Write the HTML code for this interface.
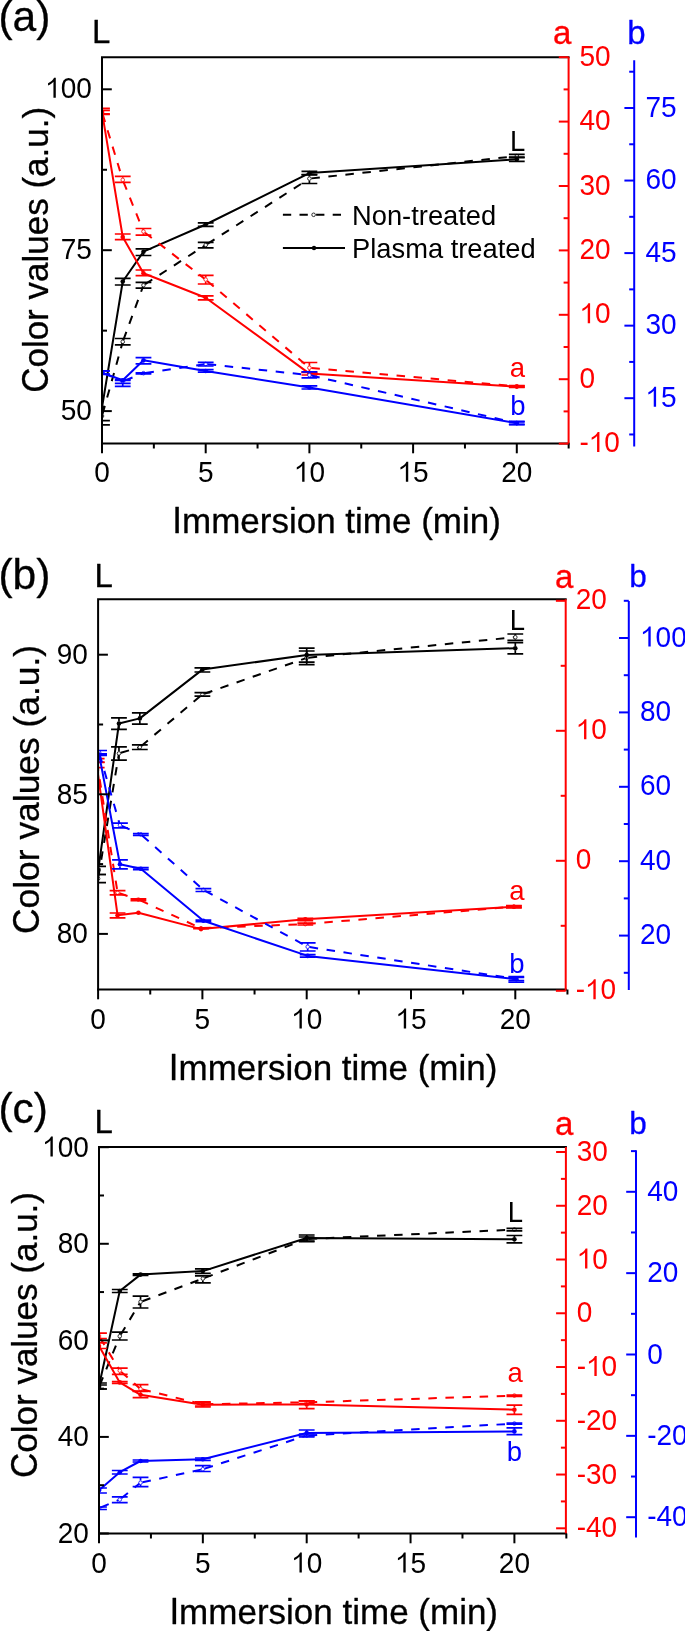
<!DOCTYPE html>
<html><head><meta charset="utf-8"><title>Color values vs immersion time</title>
<style>
html,body{margin:0;padding:0;background:#fff;}
body{width:685px;height:1631px;overflow:hidden;}
svg{display:block;font-family:"Liberation Sans",sans-serif;will-change:transform;}
text{stroke-width:0;}
.ttl{stroke-width:0.3px;stroke-linejoin:round;}
</style></head>
<body>
<svg width="685" height="1631" viewBox="0 0 685 1631">
<rect width="685" height="1631" fill="#fff"/>
<clipPath id="clip0"><rect x="102" y="27.2" width="476.6" height="446.3"/></clipPath>
<g clip-path="url(#clip0)" fill="none">
<path d="M102.54 414.07L122.74 341.8M123.43 339.92L143.48 285.2M145.16 284.11L205.7 245M207.38 243.92L309.4 178.6M311.39 178.38L516.8 156.1" stroke="#000000" stroke-width="2.0" stroke-dasharray="8.5 8.6"/>
<circle cx="102" cy="416" r="1.8" fill="#fff" stroke="#000000" stroke-width="0.8"/>
<path d="M94.1 420.7H109.9M94.1 424.9H109.9M102 418.1V424.9" stroke="#000000" stroke-width="1.7"/>
<circle cx="122.74" cy="341.8" r="1.8" fill="#fff" stroke="#000000" stroke-width="0.8"/>
<path d="M114.84 338.5H130.64M114.84 344.8H130.64M122.74 338.5V339.7M122.74 343.9V344.8" stroke="#000000" stroke-width="1.7"/>
<circle cx="143.48" cy="285.2" r="1.8" fill="#fff" stroke="#000000" stroke-width="0.8"/>
<path d="M135.58 282.3H151.38M135.58 288.1H151.38M143.48 282.3V283.1M143.48 287.3V288.1" stroke="#000000" stroke-width="1.7"/>
<circle cx="205.7" cy="245" r="1.8" fill="#fff" stroke="#000000" stroke-width="0.8"/>
<path d="M197.8 242.3H213.6M197.8 247.9H213.6M205.7 242.3V242.9M205.7 247.1V247.9" stroke="#000000" stroke-width="1.7"/>
<circle cx="309.4" cy="178.6" r="1.8" fill="#fff" stroke="#000000" stroke-width="0.8"/>
<path d="M301.5 174.8H317.3M301.5 183.5H317.3M309.4 174.8V176.5M309.4 180.7V183.5" stroke="#000000" stroke-width="1.7"/>
<circle cx="516.8" cy="156.1" r="1.8" fill="#fff" stroke="#000000" stroke-width="0.8"/>
<path d="M508.9 154.4H524.7M508.9 157.6H524.7" stroke="#000000" stroke-width="1.7"/>
<path d="M102 407.5 L122.74 281.5 L143.48 251.7 L205.7 224.5 L309.4 173.1 L516.8 159.2" stroke="#000000" stroke-width="2.0" stroke-linejoin="round"/>
<circle cx="102" cy="407.5" r="2.3" fill="#000000"/>
<circle cx="122.74" cy="281.5" r="2.3" fill="#000000"/>
<path d="M114.84 278.3H130.64M114.84 285H130.64M122.74 278.3V279.4M122.74 283.6V285" stroke="#000000" stroke-width="1.7"/>
<circle cx="143.48" cy="251.7" r="2.3" fill="#000000"/>
<path d="M135.58 248.8H151.38M135.58 255.5H151.38M143.48 248.8V249.6M143.48 253.8V255.5" stroke="#000000" stroke-width="1.7"/>
<circle cx="205.7" cy="224.5" r="2.3" fill="#000000"/>
<path d="M197.8 222.8H213.6M197.8 226.3H213.6" stroke="#000000" stroke-width="1.7"/>
<circle cx="309.4" cy="173.1" r="2.3" fill="#000000"/>
<path d="M301.5 171.3H317.3M301.5 174.5H317.3" stroke="#000000" stroke-width="1.7"/>
<circle cx="516.8" cy="159.2" r="2.3" fill="#000000"/>
<path d="M508.9 157.2H524.7M508.9 161.4H524.7M516.8 161.3V161.4" stroke="#000000" stroke-width="1.7"/>
<path d="M102.58 113.91L122.74 179.9M123.49 181.76L143.48 231.5M145.06 232.72L205.7 279.6M207.22 280.9L309.4 367.8M311.39 367.98L516.8 386.3" stroke="#ff0000" stroke-width="2.0" stroke-dasharray="8.5 8.6"/>
<circle cx="102" cy="112" r="1.8" fill="#fff" stroke="#ff0000" stroke-width="0.8"/>
<path d="M94.1 110.3H109.9M94.1 113.8H109.9" stroke="#ff0000" stroke-width="1.7"/>
<circle cx="122.74" cy="179.9" r="1.8" fill="#fff" stroke="#ff0000" stroke-width="0.8"/>
<path d="M114.84 176.4H130.64M114.84 182.4H130.64M122.74 176.4V177.8M122.74 182V182.4" stroke="#ff0000" stroke-width="1.7"/>
<circle cx="143.48" cy="231.5" r="1.8" fill="#fff" stroke="#ff0000" stroke-width="0.8"/>
<path d="M135.58 228.5H151.38M135.58 235.2H151.38M143.48 228.5V229.4M143.48 233.6V235.2" stroke="#ff0000" stroke-width="1.7"/>
<circle cx="205.7" cy="279.6" r="1.8" fill="#fff" stroke="#ff0000" stroke-width="0.8"/>
<path d="M197.8 275.3H213.6M197.8 284H213.6M205.7 275.3V277.5M205.7 281.7V284" stroke="#ff0000" stroke-width="1.7"/>
<circle cx="309.4" cy="367.8" r="1.8" fill="#fff" stroke="#ff0000" stroke-width="0.8"/>
<path d="M301.5 362.5H317.3M301.5 372.5H317.3M309.4 362.5V365.7M309.4 369.9V372.5" stroke="#ff0000" stroke-width="1.7"/>
<circle cx="516.8" cy="386.3" r="1.8" fill="#fff" stroke="#ff0000" stroke-width="0.8"/>
<path d="M508.9 385.5H524.7M508.9 387.1H524.7" stroke="#ff0000" stroke-width="1.7"/>
<path d="M102 112 L122.74 237 L143.48 273.3 L205.7 297.8 L309.4 373.6 L516.8 386.6" stroke="#ff0000" stroke-width="2.0" stroke-linejoin="round"/>
<circle cx="102" cy="112" r="2.3" fill="#ff0000"/>
<path d="M94.1 108.3H109.9M94.1 114.5H109.9M102 108.3V109.9M102 114.1V114.5" stroke="#ff0000" stroke-width="1.7"/>
<circle cx="122.74" cy="237" r="2.3" fill="#ff0000"/>
<path d="M114.84 234H130.64M114.84 239.7H130.64M122.74 234V234.9M122.74 239.1V239.7" stroke="#ff0000" stroke-width="1.7"/>
<circle cx="143.48" cy="273.3" r="2.3" fill="#ff0000"/>
<path d="M135.58 270H151.38M135.58 275.6H151.38M143.48 270V271.2M143.48 275.4V275.6" stroke="#ff0000" stroke-width="1.7"/>
<circle cx="205.7" cy="297.8" r="2.3" fill="#ff0000"/>
<path d="M197.8 295.8H213.6M197.8 299.9H213.6" stroke="#ff0000" stroke-width="1.7"/>
<circle cx="309.4" cy="373.6" r="2.3" fill="#ff0000"/>
<path d="M301.5 372.2H317.3M301.5 375H317.3" stroke="#ff0000" stroke-width="1.7"/>
<circle cx="516.8" cy="386.6" r="2.3" fill="#ff0000"/>
<path d="M508.9 385.8H524.7M508.9 387.4H524.7" stroke="#ff0000" stroke-width="1.7"/>
<path d="M103.84 373.37L122.74 381.3M124.6 380.57L143.48 373.2M145.46 372.91L205.7 364M207.69 364.21L309.4 375.1M311.35 375.55L516.8 423.1" stroke="#0000ff" stroke-width="2.0" stroke-dasharray="8.5 8.6"/>
<circle cx="102" cy="372.6" r="1.8" fill="#fff" stroke="#0000ff" stroke-width="0.8"/>
<path d="M94.1 371H109.9M94.1 374H109.9" stroke="#0000ff" stroke-width="1.7"/>
<circle cx="122.74" cy="381.3" r="1.8" fill="#fff" stroke="#0000ff" stroke-width="0.8"/>
<path d="M114.84 380.5H130.64M114.84 386.4H130.64M122.74 383.4V386.4" stroke="#0000ff" stroke-width="1.7"/>
<circle cx="143.48" cy="373.2" r="1.8" fill="#fff" stroke="#0000ff" stroke-width="0.8"/>
<path d="M135.58 372.8H151.38M135.58 374H151.38" stroke="#0000ff" stroke-width="1.7"/>
<circle cx="205.7" cy="364" r="1.8" fill="#fff" stroke="#0000ff" stroke-width="0.8"/>
<path d="M197.8 362.3H213.6M197.8 366H213.6" stroke="#0000ff" stroke-width="1.7"/>
<circle cx="309.4" cy="375.1" r="1.8" fill="#fff" stroke="#0000ff" stroke-width="0.8"/>
<path d="M301.5 371.9H317.3M301.5 377.9H317.3M309.4 371.9V373M309.4 377.2V377.9" stroke="#0000ff" stroke-width="1.7"/>
<circle cx="516.8" cy="423.1" r="1.8" fill="#fff" stroke="#0000ff" stroke-width="0.8"/>
<path d="M508.9 421.8H524.7M508.9 424.6H524.7" stroke="#0000ff" stroke-width="1.7"/>
<path d="M102 372.6 L122.74 380.3 L143.48 360.3 L205.7 371 L309.4 387.5 L516.8 423.1" stroke="#0000ff" stroke-width="2.0" stroke-linejoin="round"/>
<circle cx="102" cy="372.6" r="2.3" fill="#0000ff"/>
<path d="M94.1 370.8H109.9M94.1 374.4H109.9" stroke="#0000ff" stroke-width="1.7"/>
<circle cx="122.74" cy="380.3" r="2.3" fill="#0000ff"/>
<path d="M114.84 379.5H130.64M114.84 383.3H130.64M122.74 382.4V383.3" stroke="#0000ff" stroke-width="1.7"/>
<circle cx="143.48" cy="360.3" r="2.3" fill="#0000ff"/>
<path d="M135.58 357.6H151.38M135.58 363.8H151.38M143.48 357.6V358.2M143.48 362.4V363.8" stroke="#0000ff" stroke-width="1.7"/>
<circle cx="205.7" cy="371" r="2.3" fill="#0000ff"/>
<path d="M197.8 369.7H213.6M197.8 372.2H213.6" stroke="#0000ff" stroke-width="1.7"/>
<circle cx="309.4" cy="387.5" r="2.3" fill="#0000ff"/>
<path d="M301.5 385.9H317.3M301.5 389H317.3" stroke="#0000ff" stroke-width="1.7"/>
<circle cx="516.8" cy="423.1" r="2.3" fill="#0000ff"/>
<path d="M508.9 421.3H524.7M508.9 424.4H524.7" stroke="#0000ff" stroke-width="1.7"/>
</g>
<path d="M102 443.5V57.2H568.6" fill="none" stroke="#000000" stroke-width="2.0" stroke-linecap="square"/>
<line x1="102" y1="443.5" x2="568.6" y2="443.5" stroke="#000000" stroke-width="2.0" stroke-linecap="square"/>
<line x1="568.6" y1="57.2" x2="568.6" y2="443.6" stroke="#ff0000" stroke-width="2.0" />
<line x1="634.2" y1="60.3" x2="634.2" y2="446.4" stroke="#0000ff" stroke-width="2.0" />
<line x1="102" y1="443.5" x2="102" y2="453.3" stroke="#000000" stroke-width="2.0" />
<text transform="translate(94.22 481.8) scale(1 1.05)" font-size="28" fill="#000000" stroke="#000000" text-anchor="start" >0</text>
<line x1="153.85" y1="443.5" x2="153.85" y2="448.5" stroke="#000000" stroke-width="2.0" />
<line x1="205.7" y1="443.5" x2="205.7" y2="453.3" stroke="#000000" stroke-width="2.0" />
<text transform="translate(197.92 481.8) scale(1 1.05)" font-size="28" fill="#000000" stroke="#000000" text-anchor="start" >5</text>
<line x1="257.55" y1="443.5" x2="257.55" y2="448.5" stroke="#000000" stroke-width="2.0" />
<line x1="309.4" y1="443.5" x2="309.4" y2="453.3" stroke="#000000" stroke-width="2.0" />
<path d="M298 0L382 0L382 -680L320 -680C290 -615 215 -540 105 -495L105 -417C190 -450 258 -495 298 -544Z" fill="#000000" stroke="#000000" stroke-width="0" transform="translate(293.83 481.8) scale(0.0280 0.0294)"/>
<text transform="translate(309.4 481.8) scale(1 1.05)" font-size="28" fill="#000000" stroke="#000000" text-anchor="start" >0</text>
<line x1="361.25" y1="443.5" x2="361.25" y2="448.5" stroke="#000000" stroke-width="2.0" />
<line x1="413.1" y1="443.5" x2="413.1" y2="453.3" stroke="#000000" stroke-width="2.0" />
<path d="M298 0L382 0L382 -680L320 -680C290 -615 215 -540 105 -495L105 -417C190 -450 258 -495 298 -544Z" fill="#000000" stroke="#000000" stroke-width="0" transform="translate(397.53 481.8) scale(0.0280 0.0294)"/>
<text transform="translate(413.1 481.8) scale(1 1.05)" font-size="28" fill="#000000" stroke="#000000" text-anchor="start" >5</text>
<line x1="464.95" y1="443.5" x2="464.95" y2="448.5" stroke="#000000" stroke-width="2.0" />
<line x1="516.8" y1="443.5" x2="516.8" y2="453.3" stroke="#000000" stroke-width="2.0" />
<text transform="translate(501.23 481.8) scale(1 1.05)" font-size="28" fill="#000000" stroke="#000000" text-anchor="start" >20</text>
<line x1="568.65" y1="443.5" x2="568.65" y2="448.5" stroke="#000000" stroke-width="2.0" />
<line x1="102" y1="411.1" x2="111.8" y2="411.1" stroke="#000000" stroke-width="2.0" />
<text transform="translate(60.66 419.6) scale(1 1.05)" font-size="28" fill="#000000" stroke="#000000" text-anchor="start" >50</text>
<line x1="102" y1="250.2" x2="111.8" y2="250.2" stroke="#000000" stroke-width="2.0" />
<text transform="translate(60.66 258.7) scale(1 1.05)" font-size="28" fill="#000000" stroke="#000000" text-anchor="start" >75</text>
<line x1="102" y1="89.3" x2="111.8" y2="89.3" stroke="#000000" stroke-width="2.0" />
<path d="M298 0L382 0L382 -680L320 -680C290 -615 215 -540 105 -495L105 -417C190 -450 258 -495 298 -544Z" fill="#000000" stroke="#000000" stroke-width="0" transform="translate(45.1 97.8) scale(0.0280 0.0294)"/>
<text transform="translate(60.66 97.8) scale(1 1.05)" font-size="28" fill="#000000" stroke="#000000" text-anchor="start" >00</text>
<line x1="102" y1="330.65" x2="107" y2="330.65" stroke="#000000" stroke-width="2.0" />
<line x1="102" y1="169.75" x2="107" y2="169.75" stroke="#000000" stroke-width="2.0" />
<line x1="568.6" y1="443.6" x2="558.8" y2="443.6" stroke="#ff0000" stroke-width="2.0" />
<text transform="translate(579.4 452.1) scale(1 1.05)" font-size="28" fill="#ff0000" stroke="#ff0000" text-anchor="start" >-</text>
<path d="M298 0L382 0L382 -680L320 -680C290 -615 215 -540 105 -495L105 -417C190 -450 258 -495 298 -544Z" fill="#ff0000" stroke="#ff0000" stroke-width="0" transform="translate(588.72 452.1) scale(0.0280 0.0294)"/>
<text transform="translate(604.29 452.1) scale(1 1.05)" font-size="28" fill="#ff0000" stroke="#ff0000" text-anchor="start" >0</text>
<line x1="568.6" y1="379.2" x2="558.8" y2="379.2" stroke="#ff0000" stroke-width="2.0" />
<text transform="translate(579.4 387.7) scale(1 1.05)" font-size="28" fill="#ff0000" stroke="#ff0000" text-anchor="start" >0</text>
<line x1="568.6" y1="314.8" x2="558.8" y2="314.8" stroke="#ff0000" stroke-width="2.0" />
<path d="M298 0L382 0L382 -680L320 -680C290 -615 215 -540 105 -495L105 -417C190 -450 258 -495 298 -544Z" fill="#ff0000" stroke="#ff0000" stroke-width="0" transform="translate(579.4 323.3) scale(0.0280 0.0294)"/>
<text transform="translate(594.97 323.3) scale(1 1.05)" font-size="28" fill="#ff0000" stroke="#ff0000" text-anchor="start" >0</text>
<line x1="568.6" y1="250.4" x2="558.8" y2="250.4" stroke="#ff0000" stroke-width="2.0" />
<text transform="translate(579.4 258.9) scale(1 1.05)" font-size="28" fill="#ff0000" stroke="#ff0000" text-anchor="start" >20</text>
<line x1="568.6" y1="186" x2="558.8" y2="186" stroke="#ff0000" stroke-width="2.0" />
<text transform="translate(579.4 194.5) scale(1 1.05)" font-size="28" fill="#ff0000" stroke="#ff0000" text-anchor="start" >30</text>
<line x1="568.6" y1="121.6" x2="558.8" y2="121.6" stroke="#ff0000" stroke-width="2.0" />
<text transform="translate(579.4 130.1) scale(1 1.05)" font-size="28" fill="#ff0000" stroke="#ff0000" text-anchor="start" >40</text>
<line x1="568.6" y1="57.2" x2="558.8" y2="57.2" stroke="#ff0000" stroke-width="2.0" />
<text transform="translate(579.4 65.7) scale(1 1.05)" font-size="28" fill="#ff0000" stroke="#ff0000" text-anchor="start" >50</text>
<line x1="568.6" y1="411.4" x2="563.6" y2="411.4" stroke="#ff0000" stroke-width="2.0" />
<line x1="568.6" y1="347" x2="563.6" y2="347" stroke="#ff0000" stroke-width="2.0" />
<line x1="568.6" y1="282.6" x2="563.6" y2="282.6" stroke="#ff0000" stroke-width="2.0" />
<line x1="568.6" y1="218.2" x2="563.6" y2="218.2" stroke="#ff0000" stroke-width="2.0" />
<line x1="568.6" y1="153.8" x2="563.6" y2="153.8" stroke="#ff0000" stroke-width="2.0" />
<line x1="568.6" y1="89.4" x2="563.6" y2="89.4" stroke="#ff0000" stroke-width="2.0" />
<line x1="634.2" y1="398.2" x2="624.4" y2="398.2" stroke="#0000ff" stroke-width="2.0" />
<path d="M298 0L382 0L382 -680L320 -680C290 -615 215 -540 105 -495L105 -417C190 -450 258 -495 298 -544Z" fill="#0000ff" stroke="#0000ff" stroke-width="0" transform="translate(645.4 406.7) scale(0.0280 0.0294)"/>
<text transform="translate(660.97 406.7) scale(1 1.05)" font-size="28" fill="#0000ff" stroke="#0000ff" text-anchor="start" >5</text>
<line x1="634.2" y1="325.65" x2="624.4" y2="325.65" stroke="#0000ff" stroke-width="2.0" />
<text transform="translate(645.4 334.15) scale(1 1.05)" font-size="28" fill="#0000ff" stroke="#0000ff" text-anchor="start" >30</text>
<line x1="634.2" y1="253.1" x2="624.4" y2="253.1" stroke="#0000ff" stroke-width="2.0" />
<text transform="translate(645.4 261.6) scale(1 1.05)" font-size="28" fill="#0000ff" stroke="#0000ff" text-anchor="start" >45</text>
<line x1="634.2" y1="180.55" x2="624.4" y2="180.55" stroke="#0000ff" stroke-width="2.0" />
<text transform="translate(645.4 189.05) scale(1 1.05)" font-size="28" fill="#0000ff" stroke="#0000ff" text-anchor="start" >60</text>
<line x1="634.2" y1="108" x2="624.4" y2="108" stroke="#0000ff" stroke-width="2.0" />
<text transform="translate(645.4 116.5) scale(1 1.05)" font-size="28" fill="#0000ff" stroke="#0000ff" text-anchor="start" >75</text>
<line x1="634.2" y1="434.47" x2="629.2" y2="434.47" stroke="#0000ff" stroke-width="2.0" />
<line x1="634.2" y1="361.93" x2="629.2" y2="361.93" stroke="#0000ff" stroke-width="2.0" />
<line x1="634.2" y1="289.38" x2="629.2" y2="289.38" stroke="#0000ff" stroke-width="2.0" />
<line x1="634.2" y1="216.82" x2="629.2" y2="216.82" stroke="#0000ff" stroke-width="2.0" />
<line x1="634.2" y1="144.27" x2="629.2" y2="144.27" stroke="#0000ff" stroke-width="2.0" />
<line x1="634.2" y1="71.72" x2="629.2" y2="71.72" stroke="#0000ff" stroke-width="2.0" />
<text x="91.89" y="42.9" font-size="33" fill="#000000" stroke="#000000" text-anchor="start" class="ttl">L</text>
<text x="553.1" y="43.8" font-size="33" fill="#ff0000" stroke="#ff0000" text-anchor="start" class="ttl">a</text>
<text x="627.27" y="44.1" font-size="33" fill="#0000ff" stroke="#0000ff" text-anchor="start" class="ttl">b</text>
<text transform="translate(510.04 150.9) scale(1 1.04)" font-size="27.5" fill="#000000" stroke="#000000" text-anchor="start" >L</text>
<text x="509.63" y="377.2" font-size="27.5" fill="#ff0000" stroke="#ff0000" text-anchor="start" >a</text>
<text x="510.23" y="414.6" font-size="27.5" fill="#0000ff" stroke="#0000ff" text-anchor="start" >b</text>
<text x="-1.64" y="31" font-size="42.5" fill="#000000" stroke="#000000" text-anchor="start" class="ttl">(a)</text>
<g transform="translate(48 249.9) rotate(-90)"><text class="ttl" transform="translate(-142.97 0) scale(1 1.055)" font-size="35" fill="#000000" stroke="#000000">C</text><text class="ttl" x="-117.7" y="0" font-size="35" fill="#000000" stroke="#000000">olor values (a.u.)</text></g>
<text class="ttl" transform="translate(172.28 533.1) scale(1 1.055)" font-size="35" fill="#000000" stroke="#000000">I</text>
<text x="182.01" y="533.1" font-size="35" fill="#000000" stroke="#000000" text-anchor="start" class="ttl">mmersion time (min)</text>
<path d="M282.9 214.8H345" stroke="#000000" stroke-width="2.0" stroke-dasharray="8.3 8.3" fill="none"/>
<circle cx="313.6" cy="214.8" r="1.8" fill="#fff" stroke="#000000" stroke-width="0.8"/>
<path d="M282.9 248H345" stroke="#000000" stroke-width="2.0" fill="none"/>
<circle cx="314" cy="248" r="2.2" fill="#000000"/>
<text x="352.06" y="224.7" font-size="27.3" fill="#000000" stroke="#000000" text-anchor="start" >Non-treated</text>
<text x="352.06" y="258.1" font-size="27.3" fill="#000000" stroke="#000000" text-anchor="start" >Plasma treated</text>
<clipPath id="clip1"><rect x="98.1" y="569.2" width="477.6" height="450.3"/></clipPath>
<g clip-path="url(#clip1)" fill="none">
<path d="M98.43 876.63L118.96 753.4M120.88 752.83L139.82 747.2M141.35 745.91L202.4 694.4M204.29 693.74L306.7 657.9M308.69 657.7L515.3 637.2" stroke="#000000" stroke-width="2.0" stroke-dasharray="8.5 8.6"/>
<circle cx="98.1" cy="878.6" r="1.8" fill="#fff" stroke="#000000" stroke-width="0.8"/>
<path d="M90.2 874.5H106M90.2 882.7H106M98.1 874.5V876.5M98.1 880.7V882.7" stroke="#000000" stroke-width="1.7"/>
<circle cx="118.96" cy="753.4" r="1.8" fill="#fff" stroke="#000000" stroke-width="0.8"/>
<path d="M111.06 746.9H126.86M111.06 760.1H126.86M118.96 746.9V751.3M118.96 755.5V760.1" stroke="#000000" stroke-width="1.7"/>
<circle cx="139.82" cy="747.2" r="1.8" fill="#fff" stroke="#000000" stroke-width="0.8"/>
<path d="M131.92 744.9H147.72M131.92 749.5H147.72M139.82 744.9V745.1M139.82 749.3V749.5" stroke="#000000" stroke-width="1.7"/>
<circle cx="202.4" cy="694.4" r="1.8" fill="#fff" stroke="#000000" stroke-width="0.8"/>
<path d="M194.5 692.6H210.3M194.5 696.1H210.3" stroke="#000000" stroke-width="1.7"/>
<circle cx="306.7" cy="657.9" r="1.8" fill="#fff" stroke="#000000" stroke-width="0.8"/>
<path d="M298.8 651H314.6M298.8 664.7H314.6M306.7 651V655.8M306.7 660V664.7" stroke="#000000" stroke-width="1.7"/>
<circle cx="515.3" cy="637.2" r="1.8" fill="#fff" stroke="#000000" stroke-width="0.8"/>
<path d="M507.4 634H523.2M507.4 640.3H523.2M515.3 634V635.1M515.3 639.3V640.3" stroke="#000000" stroke-width="1.7"/>
<path d="M98.1 870.5 L118.96 723.5 L139.82 718.4 L202.4 669.6 L306.7 655 L515.3 648.2" stroke="#000000" stroke-width="2.0" stroke-linejoin="round"/>
<circle cx="98.1" cy="870.5" r="2.3" fill="#000000"/>
<path d="M90.2 866.4H106M90.2 874.5H106M98.1 866.4V868.4M98.1 872.6V874.5" stroke="#000000" stroke-width="1.7"/>
<circle cx="118.96" cy="723.5" r="2.3" fill="#000000"/>
<path d="M111.06 717.8H126.86M111.06 729.4H126.86M118.96 717.8V721.4M118.96 725.6V729.4" stroke="#000000" stroke-width="1.7"/>
<circle cx="139.82" cy="718.4" r="2.3" fill="#000000"/>
<path d="M131.92 712.8H147.72M131.92 724.2H147.72M139.82 712.8V716.3M139.82 720.5V724.2" stroke="#000000" stroke-width="1.7"/>
<circle cx="202.4" cy="669.6" r="2.3" fill="#000000"/>
<path d="M194.5 667.8H210.3M194.5 672H210.3M202.4 671.7V672" stroke="#000000" stroke-width="1.7"/>
<circle cx="306.7" cy="655" r="2.3" fill="#000000"/>
<path d="M298.8 648.1H314.6M298.8 662.1H314.6M306.7 648.1V652.9M306.7 657.1V662.1" stroke="#000000" stroke-width="1.7"/>
<circle cx="515.3" cy="648.2" r="2.3" fill="#000000"/>
<path d="M507.4 642.7H523.2M507.4 653.9H523.2M515.3 642.7V646.1M515.3 650.3V653.9" stroke="#000000" stroke-width="1.7"/>
<path d="M97.01 762.38L117.56 892.6M119.46 893.24L138.42 899.6M140.24 900.43L201 928.2M203 928.12L305.3 924.1M307.29 923.93L513.9 906.7" stroke="#ff0000" stroke-width="2.0" stroke-dasharray="8.5 8.6"/>
<circle cx="96.7" cy="760.4" r="1.8" fill="#fff" stroke="#ff0000" stroke-width="0.8"/>
<path d="M88.8 758.7H104.6M88.8 762.1H104.6" stroke="#ff0000" stroke-width="1.7"/>
<circle cx="117.56" cy="892.6" r="1.8" fill="#fff" stroke="#ff0000" stroke-width="0.8"/>
<path d="M109.66 890.6H125.46M109.66 894.8H125.46M117.56 894.7V894.8" stroke="#ff0000" stroke-width="1.7"/>
<circle cx="138.42" cy="899.6" r="1.8" fill="#fff" stroke="#ff0000" stroke-width="0.8"/>
<path d="M130.52 898.8H146.32M130.52 900.6H146.32" stroke="#ff0000" stroke-width="1.7"/>
<circle cx="201" cy="928.2" r="1.8" fill="#fff" stroke="#ff0000" stroke-width="0.8"/>
<path d="M193.1 927.8H208.9M193.1 928.6H208.9" stroke="#ff0000" stroke-width="1.7"/>
<circle cx="305.3" cy="924.1" r="1.8" fill="#fff" stroke="#ff0000" stroke-width="0.8"/>
<path d="M297.4 923.1H313.2M297.4 925H313.2" stroke="#ff0000" stroke-width="1.7"/>
<circle cx="513.9" cy="906.7" r="1.8" fill="#fff" stroke="#ff0000" stroke-width="0.8"/>
<path d="M506 906H521.8M506 907.4H521.8" stroke="#ff0000" stroke-width="1.7"/>
<path d="M96.7 765 L117.56 915.2 L138.42 912.7 L201 929.1 L305.3 919.2 L513.9 906.7" stroke="#ff0000" stroke-width="2.0" stroke-linejoin="round"/>
<circle cx="96.7" cy="765" r="2.3" fill="#ff0000"/>
<path d="M88.8 762.5H104.6M88.8 767.7H104.6M96.7 762.5V762.9M96.7 767.1V767.7" stroke="#ff0000" stroke-width="1.7"/>
<circle cx="117.56" cy="915.2" r="2.3" fill="#ff0000"/>
<path d="M109.66 913H125.46M109.66 917.8H125.46M117.56 913V913.1M117.56 917.3V917.8" stroke="#ff0000" stroke-width="1.7"/>
<circle cx="138.42" cy="912.7" r="2.3" fill="#ff0000"/>
<circle cx="201" cy="929.1" r="2.3" fill="#ff0000"/>
<circle cx="305.3" cy="919.2" r="2.3" fill="#ff0000"/>
<path d="M297.4 918.4H313.2M297.4 920.6H313.2" stroke="#ff0000" stroke-width="1.7"/>
<circle cx="513.9" cy="906.7" r="2.3" fill="#ff0000"/>
<path d="M506 905.6H521.8M506 907.8H521.8" stroke="#ff0000" stroke-width="1.7"/>
<path d="M99.65 754.42L119.96 825.2M121.79 826.01L140.82 834.4M142.32 835.73L203.4 889.9M205.16 890.86L307.7 946.8M309.68 947.11L516.3 979" stroke="#0000ff" stroke-width="2.0" stroke-dasharray="8.5 8.6"/>
<circle cx="99.1" cy="752.5" r="1.8" fill="#fff" stroke="#0000ff" stroke-width="0.8"/>
<path d="M91.2 750.5H107M91.2 754.6H107" stroke="#0000ff" stroke-width="1.7"/>
<circle cx="119.96" cy="825.2" r="1.8" fill="#fff" stroke="#0000ff" stroke-width="0.8"/>
<path d="M112.06 823.2H127.86M112.06 827.8H127.86M119.96 827.3V827.8" stroke="#0000ff" stroke-width="1.7"/>
<circle cx="140.82" cy="834.4" r="1.8" fill="#fff" stroke="#0000ff" stroke-width="0.8"/>
<path d="M132.92 833.5H148.72M132.92 835.3H148.72" stroke="#0000ff" stroke-width="1.7"/>
<circle cx="203.4" cy="889.9" r="1.8" fill="#fff" stroke="#0000ff" stroke-width="0.8"/>
<path d="M195.5 888.7H211.3M195.5 891.5H211.3" stroke="#0000ff" stroke-width="1.7"/>
<circle cx="307.7" cy="946.8" r="1.8" fill="#fff" stroke="#0000ff" stroke-width="0.8"/>
<path d="M299.8 942.8H315.6M299.8 951H315.6M307.7 942.8V944.7M307.7 948.9V951" stroke="#0000ff" stroke-width="1.7"/>
<circle cx="516.3" cy="979" r="1.8" fill="#fff" stroke="#0000ff" stroke-width="0.8"/>
<path d="M508.4 977.5H524.2M508.4 980.5H524.2" stroke="#0000ff" stroke-width="1.7"/>
<path d="M99.1 754.5 L119.96 864.3 L140.82 868.7 L203.4 920.8 L307.7 955.9 L516.3 979.3" stroke="#0000ff" stroke-width="2.0" stroke-linejoin="round"/>
<circle cx="99.1" cy="754.5" r="2.3" fill="#0000ff"/>
<path d="M91.2 753.9H107M91.2 755.3H107" stroke="#0000ff" stroke-width="1.7"/>
<circle cx="119.96" cy="864.3" r="2.3" fill="#0000ff"/>
<path d="M112.06 859.9H127.86M112.06 868.9H127.86M119.96 859.9V862.2M119.96 866.4V868.9" stroke="#0000ff" stroke-width="1.7"/>
<circle cx="140.82" cy="868.7" r="2.3" fill="#0000ff"/>
<path d="M132.92 867.7H148.72M132.92 869.7H148.72" stroke="#0000ff" stroke-width="1.7"/>
<circle cx="203.4" cy="920.8" r="2.3" fill="#0000ff"/>
<path d="M195.5 920H211.3M195.5 921.6H211.3" stroke="#0000ff" stroke-width="1.7"/>
<circle cx="307.7" cy="955.9" r="2.3" fill="#0000ff"/>
<path d="M299.8 954.7H315.6M299.8 957.1H315.6" stroke="#0000ff" stroke-width="1.7"/>
<circle cx="516.3" cy="979.3" r="2.3" fill="#0000ff"/>
<path d="M508.4 976.7H524.2M508.4 982.2H524.2M516.3 976.7V977.2M516.3 981.4V982.2" stroke="#0000ff" stroke-width="1.7"/>
</g>
<path d="M98.1 989.5V599.2H565.7" fill="none" stroke="#000000" stroke-width="2.0" stroke-linecap="square"/>
<line x1="98.1" y1="989.5" x2="565.7" y2="989.5" stroke="#000000" stroke-width="2.0" stroke-linecap="square"/>
<line x1="565.7" y1="599.2" x2="565.7" y2="990.8" stroke="#ff0000" stroke-width="2.0" />
<line x1="628.8" y1="600.9" x2="628.8" y2="990" stroke="#0000ff" stroke-width="2.0" />
<line x1="98.1" y1="989.5" x2="98.1" y2="999.3" stroke="#000000" stroke-width="2.0" />
<text transform="translate(90.32 1028.5) scale(1 1.05)" font-size="28" fill="#000000" stroke="#000000" text-anchor="start" >0</text>
<line x1="150.25" y1="989.5" x2="150.25" y2="994.5" stroke="#000000" stroke-width="2.0" />
<line x1="202.4" y1="989.5" x2="202.4" y2="999.3" stroke="#000000" stroke-width="2.0" />
<text transform="translate(194.62 1028.5) scale(1 1.05)" font-size="28" fill="#000000" stroke="#000000" text-anchor="start" >5</text>
<line x1="254.55" y1="989.5" x2="254.55" y2="994.5" stroke="#000000" stroke-width="2.0" />
<line x1="306.7" y1="989.5" x2="306.7" y2="999.3" stroke="#000000" stroke-width="2.0" />
<path d="M298 0L382 0L382 -680L320 -680C290 -615 215 -540 105 -495L105 -417C190 -450 258 -495 298 -544Z" fill="#000000" stroke="#000000" stroke-width="0" transform="translate(291.13 1028.5) scale(0.0280 0.0294)"/>
<text transform="translate(306.7 1028.5) scale(1 1.05)" font-size="28" fill="#000000" stroke="#000000" text-anchor="start" >0</text>
<line x1="358.85" y1="989.5" x2="358.85" y2="994.5" stroke="#000000" stroke-width="2.0" />
<line x1="411" y1="989.5" x2="411" y2="999.3" stroke="#000000" stroke-width="2.0" />
<path d="M298 0L382 0L382 -680L320 -680C290 -615 215 -540 105 -495L105 -417C190 -450 258 -495 298 -544Z" fill="#000000" stroke="#000000" stroke-width="0" transform="translate(395.43 1028.5) scale(0.0280 0.0294)"/>
<text transform="translate(411 1028.5) scale(1 1.05)" font-size="28" fill="#000000" stroke="#000000" text-anchor="start" >5</text>
<line x1="463.15" y1="989.5" x2="463.15" y2="994.5" stroke="#000000" stroke-width="2.0" />
<line x1="515.3" y1="989.5" x2="515.3" y2="999.3" stroke="#000000" stroke-width="2.0" />
<text transform="translate(499.73 1028.5) scale(1 1.05)" font-size="28" fill="#000000" stroke="#000000" text-anchor="start" >20</text>
<line x1="567.45" y1="989.5" x2="567.45" y2="994.5" stroke="#000000" stroke-width="2.0" />
<line x1="98.1" y1="933.9" x2="107.9" y2="933.9" stroke="#000000" stroke-width="2.0" />
<text transform="translate(56.76 943.4) scale(1 1.05)" font-size="28" fill="#000000" stroke="#000000" text-anchor="start" >80</text>
<line x1="98.1" y1="794.3" x2="107.9" y2="794.3" stroke="#000000" stroke-width="2.0" />
<text transform="translate(56.76 803.8) scale(1 1.05)" font-size="28" fill="#000000" stroke="#000000" text-anchor="start" >85</text>
<line x1="98.1" y1="654.7" x2="107.9" y2="654.7" stroke="#000000" stroke-width="2.0" />
<text transform="translate(56.76 664.2) scale(1 1.05)" font-size="28" fill="#000000" stroke="#000000" text-anchor="start" >90</text>
<line x1="98.1" y1="864.1" x2="103.1" y2="864.1" stroke="#000000" stroke-width="2.0" />
<line x1="98.1" y1="724.5" x2="103.1" y2="724.5" stroke="#000000" stroke-width="2.0" />
<line x1="565.7" y1="990.8" x2="555.9" y2="990.8" stroke="#ff0000" stroke-width="2.0" />
<text transform="translate(575.7 999.3) scale(1 1.05)" font-size="28" fill="#ff0000" stroke="#ff0000" text-anchor="start" >-</text>
<path d="M298 0L382 0L382 -680L320 -680C290 -615 215 -540 105 -495L105 -417C190 -450 258 -495 298 -544Z" fill="#ff0000" stroke="#ff0000" stroke-width="0" transform="translate(585.02 999.3) scale(0.0280 0.0294)"/>
<text transform="translate(600.59 999.3) scale(1 1.05)" font-size="28" fill="#ff0000" stroke="#ff0000" text-anchor="start" >0</text>
<line x1="565.7" y1="860.8" x2="555.9" y2="860.8" stroke="#ff0000" stroke-width="2.0" />
<text transform="translate(575.7 869.3) scale(1 1.05)" font-size="28" fill="#ff0000" stroke="#ff0000" text-anchor="start" >0</text>
<line x1="565.7" y1="730.8" x2="555.9" y2="730.8" stroke="#ff0000" stroke-width="2.0" />
<path d="M298 0L382 0L382 -680L320 -680C290 -615 215 -540 105 -495L105 -417C190 -450 258 -495 298 -544Z" fill="#ff0000" stroke="#ff0000" stroke-width="0" transform="translate(575.7 739.3) scale(0.0280 0.0294)"/>
<text transform="translate(591.27 739.3) scale(1 1.05)" font-size="28" fill="#ff0000" stroke="#ff0000" text-anchor="start" >0</text>
<line x1="565.7" y1="600.8" x2="555.9" y2="600.8" stroke="#ff0000" stroke-width="2.0" />
<text transform="translate(575.7 609.3) scale(1 1.05)" font-size="28" fill="#ff0000" stroke="#ff0000" text-anchor="start" >20</text>
<line x1="565.7" y1="925.8" x2="560.7" y2="925.8" stroke="#ff0000" stroke-width="2.0" />
<line x1="565.7" y1="795.8" x2="560.7" y2="795.8" stroke="#ff0000" stroke-width="2.0" />
<line x1="565.7" y1="665.8" x2="560.7" y2="665.8" stroke="#ff0000" stroke-width="2.0" />
<line x1="628.8" y1="935.6" x2="619" y2="935.6" stroke="#0000ff" stroke-width="2.0" />
<text transform="translate(640 944.1) scale(1 1.05)" font-size="28" fill="#0000ff" stroke="#0000ff" text-anchor="start" >20</text>
<line x1="628.8" y1="861.2" x2="619" y2="861.2" stroke="#0000ff" stroke-width="2.0" />
<text transform="translate(640 869.7) scale(1 1.05)" font-size="28" fill="#0000ff" stroke="#0000ff" text-anchor="start" >40</text>
<line x1="628.8" y1="786.8" x2="619" y2="786.8" stroke="#0000ff" stroke-width="2.0" />
<text transform="translate(640 795.3) scale(1 1.05)" font-size="28" fill="#0000ff" stroke="#0000ff" text-anchor="start" >60</text>
<line x1="628.8" y1="712.4" x2="619" y2="712.4" stroke="#0000ff" stroke-width="2.0" />
<text transform="translate(640 720.9) scale(1 1.05)" font-size="28" fill="#0000ff" stroke="#0000ff" text-anchor="start" >80</text>
<line x1="628.8" y1="638" x2="619" y2="638" stroke="#0000ff" stroke-width="2.0" />
<path d="M298 0L382 0L382 -680L320 -680C290 -615 215 -540 105 -495L105 -417C190 -450 258 -495 298 -544Z" fill="#0000ff" stroke="#0000ff" stroke-width="0" transform="translate(640 646.5) scale(0.0280 0.0294)"/>
<text transform="translate(655.57 646.5) scale(1 1.05)" font-size="28" fill="#0000ff" stroke="#0000ff" text-anchor="start" >00</text>
<line x1="628.8" y1="972.8" x2="623.8" y2="972.8" stroke="#0000ff" stroke-width="2.0" />
<line x1="628.8" y1="898.4" x2="623.8" y2="898.4" stroke="#0000ff" stroke-width="2.0" />
<line x1="628.8" y1="824" x2="623.8" y2="824" stroke="#0000ff" stroke-width="2.0" />
<line x1="628.8" y1="749.6" x2="623.8" y2="749.6" stroke="#0000ff" stroke-width="2.0" />
<line x1="628.8" y1="675.2" x2="623.8" y2="675.2" stroke="#0000ff" stroke-width="2.0" />
<line x1="628.8" y1="600.8" x2="623.8" y2="600.8" stroke="#0000ff" stroke-width="2.0" />
<text x="94.49" y="587.1" font-size="33" fill="#000000" stroke="#000000" text-anchor="start" class="ttl">L</text>
<text x="554.9" y="588" font-size="33" fill="#ff0000" stroke="#ff0000" text-anchor="start" class="ttl">a</text>
<text x="629.17" y="587.4" font-size="31.5" fill="#0000ff" stroke="#0000ff" text-anchor="start" class="ttl">b</text>
<text transform="translate(509.74 630.2) scale(1 1.04)" font-size="27.5" fill="#000000" stroke="#000000" text-anchor="start" >L</text>
<text x="509.13" y="899.6" font-size="27.5" fill="#ff0000" stroke="#ff0000" text-anchor="start" >a</text>
<text x="509.13" y="972.5" font-size="27.5" fill="#0000ff" stroke="#0000ff" text-anchor="start" >b</text>
<text x="-1.64" y="589.3" font-size="42.5" fill="#000000" stroke="#000000" text-anchor="start" class="ttl">(b)</text>
<g transform="translate(38.5 789.4) rotate(-90)"><text class="ttl" transform="translate(-144.61 0) scale(1 1.055)" font-size="35.4" fill="#000000" stroke="#000000">C</text><text class="ttl" x="-119.04" y="0" font-size="35.4" fill="#000000" stroke="#000000">olor values (a.u.)</text></g>
<text class="ttl" transform="translate(168.78 1079.9) scale(1 1.055)" font-size="35" fill="#000000" stroke="#000000">I</text>
<text x="178.51" y="1079.9" font-size="35" fill="#000000" stroke="#000000" text-anchor="start" class="ttl">mmersion time (min)</text>
<clipPath id="clip2"><rect x="99" y="1117.1" width="476.9" height="446.4"/></clipPath>
<g clip-path="url(#clip2)" fill="none">
<path d="M99.76 1385.15L119.77 1336.2M120.81 1334.49L140.54 1301.9M142.41 1301.2L202.85 1278.6M204.72 1277.89L306.7 1239M308.7 1238.91L514.4 1229.6" stroke="#000000" stroke-width="2.0" stroke-dasharray="8.5 8.6"/>
<circle cx="99" cy="1387" r="1.8" fill="#fff" stroke="#000000" stroke-width="0.8"/>
<path d="M91.1 1385H106.9M91.1 1389H106.9" stroke="#000000" stroke-width="1.7"/>
<circle cx="119.77" cy="1336.2" r="1.8" fill="#fff" stroke="#000000" stroke-width="0.8"/>
<path d="M111.87 1332.1H127.67M111.87 1340H127.67M119.77 1332.1V1334.1M119.77 1338.3V1340" stroke="#000000" stroke-width="1.7"/>
<circle cx="140.54" cy="1301.9" r="1.8" fill="#fff" stroke="#000000" stroke-width="0.8"/>
<path d="M132.64 1296.1H148.44M132.64 1308H148.44M140.54 1296.1V1299.8M140.54 1304V1308" stroke="#000000" stroke-width="1.7"/>
<circle cx="202.85" cy="1278.6" r="1.8" fill="#fff" stroke="#000000" stroke-width="0.8"/>
<path d="M194.95 1275.8H210.75M194.95 1282.8H210.75M202.85 1275.8V1276.5M202.85 1280.7V1282.8" stroke="#000000" stroke-width="1.7"/>
<circle cx="306.7" cy="1239" r="1.8" fill="#fff" stroke="#000000" stroke-width="0.8"/>
<path d="M298.8 1237H314.6M298.8 1241H314.6" stroke="#000000" stroke-width="1.7"/>
<circle cx="514.4" cy="1229.6" r="1.8" fill="#fff" stroke="#000000" stroke-width="0.8"/>
<path d="M506.5 1228.3H522.3M506.5 1230.9H522.3" stroke="#000000" stroke-width="1.7"/>
<path d="M99 1386 L119.77 1291 L140.54 1274.6 L202.85 1271.1 L306.7 1238 L514.4 1239.3" stroke="#000000" stroke-width="2.0" stroke-linejoin="round"/>
<circle cx="99" cy="1386" r="2.3" fill="#000000"/>
<path d="M91.1 1383H106.9M91.1 1389H106.9M99 1383V1383.9M99 1388.1V1389" stroke="#000000" stroke-width="1.7"/>
<circle cx="119.77" cy="1291" r="2.3" fill="#000000"/>
<path d="M111.87 1289.5H127.67M111.87 1292.5H127.67" stroke="#000000" stroke-width="1.7"/>
<circle cx="140.54" cy="1274.6" r="2.3" fill="#000000"/>
<path d="M132.64 1273.8H148.44M132.64 1275.4H148.44" stroke="#000000" stroke-width="1.7"/>
<circle cx="202.85" cy="1271.1" r="2.3" fill="#000000"/>
<path d="M194.95 1268.8H210.75M194.95 1273.4H210.75M202.85 1268.8V1269M202.85 1273.2V1273.4" stroke="#000000" stroke-width="1.7"/>
<circle cx="306.7" cy="1238" r="2.3" fill="#000000"/>
<path d="M298.8 1235H314.6M298.8 1241.6H314.6M306.7 1235V1235.9M306.7 1240.1V1241.6" stroke="#000000" stroke-width="1.7"/>
<circle cx="514.4" cy="1239.3" r="2.3" fill="#000000"/>
<path d="M506.5 1235.5H522.3M506.5 1242.9H522.3M514.4 1235.5V1237.2M514.4 1241.4V1242.9" stroke="#000000" stroke-width="1.7"/>
<path d="M100.03 1337.71L119.77 1370.6M121.27 1371.93L140.54 1389M142.48 1389.48L202.85 1404.3M204.85 1404.26L306.7 1402.3M308.7 1402.24L514.4 1395.6" stroke="#ff0000" stroke-width="2.0" stroke-dasharray="8.5 8.6"/>
<circle cx="99" cy="1336" r="1.8" fill="#fff" stroke="#ff0000" stroke-width="0.8"/>
<path d="M91.1 1333.1H106.9M91.1 1338.5H106.9M99 1333.1V1333.9M99 1338.1V1338.5" stroke="#ff0000" stroke-width="1.7"/>
<circle cx="119.77" cy="1370.6" r="1.8" fill="#fff" stroke="#ff0000" stroke-width="0.8"/>
<path d="M111.87 1368.2H127.67M111.87 1374.3H127.67M119.77 1368.2V1368.5M119.77 1372.7V1374.3" stroke="#ff0000" stroke-width="1.7"/>
<circle cx="140.54" cy="1389" r="1.8" fill="#fff" stroke="#ff0000" stroke-width="0.8"/>
<path d="M132.64 1384.6H148.44M132.64 1391.5H148.44M140.54 1384.6V1386.9M140.54 1391.1V1391.5" stroke="#ff0000" stroke-width="1.7"/>
<circle cx="202.85" cy="1404.3" r="1.8" fill="#fff" stroke="#ff0000" stroke-width="0.8"/>
<path d="M194.95 1401.8H210.75M194.95 1406H210.75M202.85 1401.8V1402.2" stroke="#ff0000" stroke-width="1.7"/>
<circle cx="306.7" cy="1402.3" r="1.8" fill="#fff" stroke="#ff0000" stroke-width="0.8"/>
<path d="M298.8 1400.8H314.6M298.8 1403.5H314.6" stroke="#ff0000" stroke-width="1.7"/>
<circle cx="514.4" cy="1395.6" r="1.8" fill="#fff" stroke="#ff0000" stroke-width="0.8"/>
<path d="M506.5 1395H522.3M506.5 1396.3H522.3" stroke="#ff0000" stroke-width="1.7"/>
<path d="M99 1346 L119.77 1382.4 L140.54 1394.8 L202.85 1404.7 L306.7 1404.5 L514.4 1409.7" stroke="#ff0000" stroke-width="2.0" stroke-linejoin="round"/>
<circle cx="99" cy="1346" r="2.3" fill="#ff0000"/>
<path d="M91.1 1342.8H106.9M91.1 1348.5H106.9M99 1342.8V1343.9M99 1348.1V1348.5" stroke="#ff0000" stroke-width="1.7"/>
<circle cx="119.77" cy="1382.4" r="2.3" fill="#ff0000"/>
<path d="M111.87 1381.5H127.67M111.87 1383.3H127.67" stroke="#ff0000" stroke-width="1.7"/>
<circle cx="140.54" cy="1394.8" r="2.3" fill="#ff0000"/>
<path d="M132.64 1391.2H148.44M132.64 1397.7H148.44M140.54 1391.2V1392.7M140.54 1396.9V1397.7" stroke="#ff0000" stroke-width="1.7"/>
<circle cx="202.85" cy="1404.7" r="2.3" fill="#ff0000"/>
<path d="M194.95 1402.5H210.75M194.95 1407H210.75M202.85 1402.5V1402.6M202.85 1406.8V1407" stroke="#ff0000" stroke-width="1.7"/>
<circle cx="306.7" cy="1404.5" r="2.3" fill="#ff0000"/>
<path d="M298.8 1400.8H314.6M298.8 1408.6H314.6M306.7 1400.8V1402.4M306.7 1406.6V1408.6" stroke="#ff0000" stroke-width="1.7"/>
<circle cx="514.4" cy="1409.7" r="2.3" fill="#ff0000"/>
<path d="M506.5 1405.2H522.3M506.5 1414.3H522.3M514.4 1405.2V1407.6M514.4 1411.8V1414.3" stroke="#ff0000" stroke-width="1.7"/>
<path d="M100.85 1507.43L119.77 1499.6M121.32 1498.34L140.54 1482.7M142.49 1482.28L202.85 1469.2M204.75 1468.58L306.7 1435.5M308.7 1435.39L514.4 1423.6" stroke="#0000ff" stroke-width="2.0" stroke-dasharray="8.5 8.6"/>
<circle cx="99" cy="1508.2" r="1.8" fill="#fff" stroke="#0000ff" stroke-width="0.8"/>
<path d="M91.1 1507H106.9M91.1 1509.5H106.9" stroke="#0000ff" stroke-width="1.7"/>
<circle cx="119.77" cy="1499.6" r="1.8" fill="#fff" stroke="#0000ff" stroke-width="0.8"/>
<path d="M111.87 1496.8H127.67M111.87 1502.6H127.67M119.77 1496.8V1497.5M119.77 1501.7V1502.6" stroke="#0000ff" stroke-width="1.7"/>
<circle cx="140.54" cy="1482.7" r="1.8" fill="#fff" stroke="#0000ff" stroke-width="0.8"/>
<path d="M132.64 1477.4H148.44M132.64 1486.7H148.44M140.54 1477.4V1480.6M140.54 1484.8V1486.7" stroke="#0000ff" stroke-width="1.7"/>
<circle cx="202.85" cy="1469.2" r="1.8" fill="#fff" stroke="#0000ff" stroke-width="0.8"/>
<path d="M194.95 1465.7H210.75M194.95 1471.5H210.75M202.85 1465.7V1467.1M202.85 1471.3V1471.5" stroke="#0000ff" stroke-width="1.7"/>
<circle cx="306.7" cy="1435.5" r="1.8" fill="#fff" stroke="#0000ff" stroke-width="0.8"/>
<path d="M298.8 1434H314.6M298.8 1437H314.6" stroke="#0000ff" stroke-width="1.7"/>
<circle cx="514.4" cy="1423.6" r="1.8" fill="#fff" stroke="#0000ff" stroke-width="0.8"/>
<path d="M506.5 1423.1H522.3M506.5 1424.1H522.3" stroke="#0000ff" stroke-width="1.7"/>
<path d="M99 1490.2 L119.77 1472.2 L140.54 1461 L202.85 1459.2 L306.7 1433 L514.4 1431.4" stroke="#0000ff" stroke-width="2.0" stroke-linejoin="round"/>
<circle cx="99" cy="1490.2" r="2.3" fill="#0000ff"/>
<path d="M91.1 1488H106.9M91.1 1493H106.9M99 1488V1488.1M99 1492.3V1493" stroke="#0000ff" stroke-width="1.7"/>
<circle cx="119.77" cy="1472.2" r="2.3" fill="#0000ff"/>
<path d="M111.87 1470.5H127.67M111.87 1474H127.67" stroke="#0000ff" stroke-width="1.7"/>
<circle cx="140.54" cy="1461" r="2.3" fill="#0000ff"/>
<path d="M132.64 1460H148.44M132.64 1462H148.44" stroke="#0000ff" stroke-width="1.7"/>
<circle cx="202.85" cy="1459.2" r="2.3" fill="#0000ff"/>
<path d="M194.95 1458H210.75M194.95 1460.4H210.75" stroke="#0000ff" stroke-width="1.7"/>
<circle cx="306.7" cy="1433" r="2.3" fill="#0000ff"/>
<path d="M298.8 1430H314.6M298.8 1436H314.6M306.7 1430V1430.9M306.7 1435.1V1436" stroke="#0000ff" stroke-width="1.7"/>
<circle cx="514.4" cy="1431.4" r="2.3" fill="#0000ff"/>
<path d="M506.5 1427.9H522.3M506.5 1434.7H522.3M514.4 1427.9V1429.3M514.4 1433.5V1434.7" stroke="#0000ff" stroke-width="1.7"/>
</g>
<path d="M99 1533.5V1147.1H565.9" fill="none" stroke="#000000" stroke-width="2.0" stroke-linecap="square"/>
<line x1="99" y1="1533.5" x2="565.9" y2="1533.5" stroke="#000000" stroke-width="2.0" stroke-linecap="square"/>
<line x1="565.9" y1="1147.1" x2="565.9" y2="1533.5" stroke="#ff0000" stroke-width="2.0" />
<line x1="636" y1="1150.3" x2="636" y2="1537.5" stroke="#0000ff" stroke-width="2.0" />
<line x1="99" y1="1533.5" x2="99" y2="1543.3" stroke="#000000" stroke-width="2.0" />
<text transform="translate(91.22 1572.5) scale(1 1.05)" font-size="28" fill="#000000" stroke="#000000" text-anchor="start" >0</text>
<line x1="150.93" y1="1533.5" x2="150.93" y2="1538.5" stroke="#000000" stroke-width="2.0" />
<line x1="202.85" y1="1533.5" x2="202.85" y2="1543.3" stroke="#000000" stroke-width="2.0" />
<text transform="translate(195.07 1572.5) scale(1 1.05)" font-size="28" fill="#000000" stroke="#000000" text-anchor="start" >5</text>
<line x1="254.78" y1="1533.5" x2="254.78" y2="1538.5" stroke="#000000" stroke-width="2.0" />
<line x1="306.7" y1="1533.5" x2="306.7" y2="1543.3" stroke="#000000" stroke-width="2.0" />
<path d="M298 0L382 0L382 -680L320 -680C290 -615 215 -540 105 -495L105 -417C190 -450 258 -495 298 -544Z" fill="#000000" stroke="#000000" stroke-width="0" transform="translate(291.13 1572.5) scale(0.0280 0.0294)"/>
<text transform="translate(306.7 1572.5) scale(1 1.05)" font-size="28" fill="#000000" stroke="#000000" text-anchor="start" >0</text>
<line x1="358.62" y1="1533.5" x2="358.62" y2="1538.5" stroke="#000000" stroke-width="2.0" />
<line x1="410.55" y1="1533.5" x2="410.55" y2="1543.3" stroke="#000000" stroke-width="2.0" />
<path d="M298 0L382 0L382 -680L320 -680C290 -615 215 -540 105 -495L105 -417C190 -450 258 -495 298 -544Z" fill="#000000" stroke="#000000" stroke-width="0" transform="translate(394.98 1572.5) scale(0.0280 0.0294)"/>
<text transform="translate(410.55 1572.5) scale(1 1.05)" font-size="28" fill="#000000" stroke="#000000" text-anchor="start" >5</text>
<line x1="462.47" y1="1533.5" x2="462.47" y2="1538.5" stroke="#000000" stroke-width="2.0" />
<line x1="514.4" y1="1533.5" x2="514.4" y2="1543.3" stroke="#000000" stroke-width="2.0" />
<text transform="translate(498.83 1572.5) scale(1 1.05)" font-size="28" fill="#000000" stroke="#000000" text-anchor="start" >20</text>
<line x1="566.33" y1="1533.5" x2="566.33" y2="1538.5" stroke="#000000" stroke-width="2.0" />
<line x1="99" y1="1533.5" x2="108.8" y2="1533.5" stroke="#000000" stroke-width="2.0" />
<text transform="translate(57.66 1542.9) scale(1 1.05)" font-size="28" fill="#000000" stroke="#000000" text-anchor="start" >20</text>
<line x1="99" y1="1436.92" x2="108.8" y2="1436.92" stroke="#000000" stroke-width="2.0" />
<text transform="translate(57.66 1446.33) scale(1 1.05)" font-size="28" fill="#000000" stroke="#000000" text-anchor="start" >40</text>
<line x1="99" y1="1340.35" x2="108.8" y2="1340.35" stroke="#000000" stroke-width="2.0" />
<text transform="translate(57.66 1349.75) scale(1 1.05)" font-size="28" fill="#000000" stroke="#000000" text-anchor="start" >60</text>
<line x1="99" y1="1243.78" x2="108.8" y2="1243.78" stroke="#000000" stroke-width="2.0" />
<text transform="translate(57.66 1253.18) scale(1 1.05)" font-size="28" fill="#000000" stroke="#000000" text-anchor="start" >80</text>
<line x1="99" y1="1147.2" x2="108.8" y2="1147.2" stroke="#000000" stroke-width="2.0" />
<path d="M298 0L382 0L382 -680L320 -680C290 -615 215 -540 105 -495L105 -417C190 -450 258 -495 298 -544Z" fill="#000000" stroke="#000000" stroke-width="0" transform="translate(42.1 1156.6) scale(0.0280 0.0294)"/>
<text transform="translate(57.66 1156.6) scale(1 1.05)" font-size="28" fill="#000000" stroke="#000000" text-anchor="start" >00</text>
<line x1="99" y1="1485.21" x2="104" y2="1485.21" stroke="#000000" stroke-width="2.0" />
<line x1="99" y1="1388.64" x2="104" y2="1388.64" stroke="#000000" stroke-width="2.0" />
<line x1="99" y1="1292.06" x2="104" y2="1292.06" stroke="#000000" stroke-width="2.0" />
<line x1="99" y1="1195.49" x2="104" y2="1195.49" stroke="#000000" stroke-width="2.0" />
<line x1="565.9" y1="1528.3" x2="556.1" y2="1528.3" stroke="#ff0000" stroke-width="2.0" />
<text transform="translate(576.7 1537.3) scale(1 1.05)" font-size="28" fill="#ff0000" stroke="#ff0000" text-anchor="start" >-40</text>
<line x1="565.9" y1="1474.54" x2="556.1" y2="1474.54" stroke="#ff0000" stroke-width="2.0" />
<text transform="translate(576.7 1483.54) scale(1 1.05)" font-size="28" fill="#ff0000" stroke="#ff0000" text-anchor="start" >-30</text>
<line x1="565.9" y1="1420.79" x2="556.1" y2="1420.79" stroke="#ff0000" stroke-width="2.0" />
<text transform="translate(576.7 1429.79) scale(1 1.05)" font-size="28" fill="#ff0000" stroke="#ff0000" text-anchor="start" >-20</text>
<line x1="565.9" y1="1367.03" x2="556.1" y2="1367.03" stroke="#ff0000" stroke-width="2.0" />
<text transform="translate(576.7 1376.03) scale(1 1.05)" font-size="28" fill="#ff0000" stroke="#ff0000" text-anchor="start" >-</text>
<path d="M298 0L382 0L382 -680L320 -680C290 -615 215 -540 105 -495L105 -417C190 -450 258 -495 298 -544Z" fill="#ff0000" stroke="#ff0000" stroke-width="0" transform="translate(586.02 1376.03) scale(0.0280 0.0294)"/>
<text transform="translate(601.59 1376.03) scale(1 1.05)" font-size="28" fill="#ff0000" stroke="#ff0000" text-anchor="start" >0</text>
<line x1="565.9" y1="1313.27" x2="556.1" y2="1313.27" stroke="#ff0000" stroke-width="2.0" />
<text transform="translate(576.7 1322.27) scale(1 1.05)" font-size="28" fill="#ff0000" stroke="#ff0000" text-anchor="start" >0</text>
<line x1="565.9" y1="1259.51" x2="556.1" y2="1259.51" stroke="#ff0000" stroke-width="2.0" />
<path d="M298 0L382 0L382 -680L320 -680C290 -615 215 -540 105 -495L105 -417C190 -450 258 -495 298 -544Z" fill="#ff0000" stroke="#ff0000" stroke-width="0" transform="translate(576.7 1268.51) scale(0.0280 0.0294)"/>
<text transform="translate(592.27 1268.51) scale(1 1.05)" font-size="28" fill="#ff0000" stroke="#ff0000" text-anchor="start" >0</text>
<line x1="565.9" y1="1205.76" x2="556.1" y2="1205.76" stroke="#ff0000" stroke-width="2.0" />
<text transform="translate(576.7 1214.76) scale(1 1.05)" font-size="28" fill="#ff0000" stroke="#ff0000" text-anchor="start" >20</text>
<line x1="565.9" y1="1152" x2="556.1" y2="1152" stroke="#ff0000" stroke-width="2.0" />
<text transform="translate(576.7 1161) scale(1 1.05)" font-size="28" fill="#ff0000" stroke="#ff0000" text-anchor="start" >30</text>
<line x1="565.9" y1="1501.42" x2="560.9" y2="1501.42" stroke="#ff0000" stroke-width="2.0" />
<line x1="565.9" y1="1447.66" x2="560.9" y2="1447.66" stroke="#ff0000" stroke-width="2.0" />
<line x1="565.9" y1="1393.91" x2="560.9" y2="1393.91" stroke="#ff0000" stroke-width="2.0" />
<line x1="565.9" y1="1340.15" x2="560.9" y2="1340.15" stroke="#ff0000" stroke-width="2.0" />
<line x1="565.9" y1="1286.39" x2="560.9" y2="1286.39" stroke="#ff0000" stroke-width="2.0" />
<line x1="565.9" y1="1232.64" x2="560.9" y2="1232.64" stroke="#ff0000" stroke-width="2.0" />
<line x1="565.9" y1="1178.88" x2="560.9" y2="1178.88" stroke="#ff0000" stroke-width="2.0" />
<line x1="636" y1="1517.2" x2="626.2" y2="1517.2" stroke="#0000ff" stroke-width="2.0" />
<text transform="translate(647.2 1526.2) scale(1 1.05)" font-size="28" fill="#0000ff" stroke="#0000ff" text-anchor="start" >-40</text>
<line x1="636" y1="1435.85" x2="626.2" y2="1435.85" stroke="#0000ff" stroke-width="2.0" />
<text transform="translate(647.2 1444.85) scale(1 1.05)" font-size="28" fill="#0000ff" stroke="#0000ff" text-anchor="start" >-20</text>
<line x1="636" y1="1354.5" x2="626.2" y2="1354.5" stroke="#0000ff" stroke-width="2.0" />
<text transform="translate(647.2 1363.5) scale(1 1.05)" font-size="28" fill="#0000ff" stroke="#0000ff" text-anchor="start" >0</text>
<line x1="636" y1="1273.15" x2="626.2" y2="1273.15" stroke="#0000ff" stroke-width="2.0" />
<text transform="translate(647.2 1282.15) scale(1 1.05)" font-size="28" fill="#0000ff" stroke="#0000ff" text-anchor="start" >20</text>
<line x1="636" y1="1191.8" x2="626.2" y2="1191.8" stroke="#0000ff" stroke-width="2.0" />
<text transform="translate(647.2 1200.8) scale(1 1.05)" font-size="28" fill="#0000ff" stroke="#0000ff" text-anchor="start" >40</text>
<line x1="636" y1="1476.53" x2="631" y2="1476.53" stroke="#0000ff" stroke-width="2.0" />
<line x1="636" y1="1395.17" x2="631" y2="1395.17" stroke="#0000ff" stroke-width="2.0" />
<line x1="636" y1="1313.83" x2="631" y2="1313.83" stroke="#0000ff" stroke-width="2.0" />
<line x1="636" y1="1232.47" x2="631" y2="1232.47" stroke="#0000ff" stroke-width="2.0" />
<line x1="636" y1="1151.12" x2="631" y2="1151.12" stroke="#0000ff" stroke-width="2.0" />
<text x="94.49" y="1133.4" font-size="33" fill="#000000" stroke="#000000" text-anchor="start" class="ttl">L</text>
<text x="554.9" y="1134.9" font-size="33" fill="#ff0000" stroke="#ff0000" text-anchor="start" class="ttl">a</text>
<text x="629.17" y="1134.3" font-size="31.5" fill="#0000ff" stroke="#0000ff" text-anchor="start" class="ttl">b</text>
<text transform="translate(507.64 1221.9) scale(1 1.04)" font-size="27.5" fill="#000000" stroke="#000000" text-anchor="start" >L</text>
<text x="507.43" y="1381.7" font-size="27.5" fill="#ff0000" stroke="#ff0000" text-anchor="start" >a</text>
<text x="506.83" y="1461" font-size="27.5" fill="#0000ff" stroke="#0000ff" text-anchor="start" >b</text>
<text x="-1.64" y="1123.3" font-size="42.5" fill="#000000" stroke="#000000" text-anchor="start" class="ttl">(c)</text>
<g transform="translate(36.5 1335) rotate(-90)"><text class="ttl" transform="translate(-142.97 0) scale(1 1.055)" font-size="35" fill="#000000" stroke="#000000">C</text><text class="ttl" x="-117.7" y="0" font-size="35" fill="#000000" stroke="#000000">olor values (a.u.)</text></g>
<text class="ttl" transform="translate(169.38 1624) scale(1 1.055)" font-size="35" fill="#000000" stroke="#000000">I</text>
<text x="179.11" y="1624" font-size="35" fill="#000000" stroke="#000000" text-anchor="start" class="ttl">mmersion time (min)</text>
</svg>
</body></html>
